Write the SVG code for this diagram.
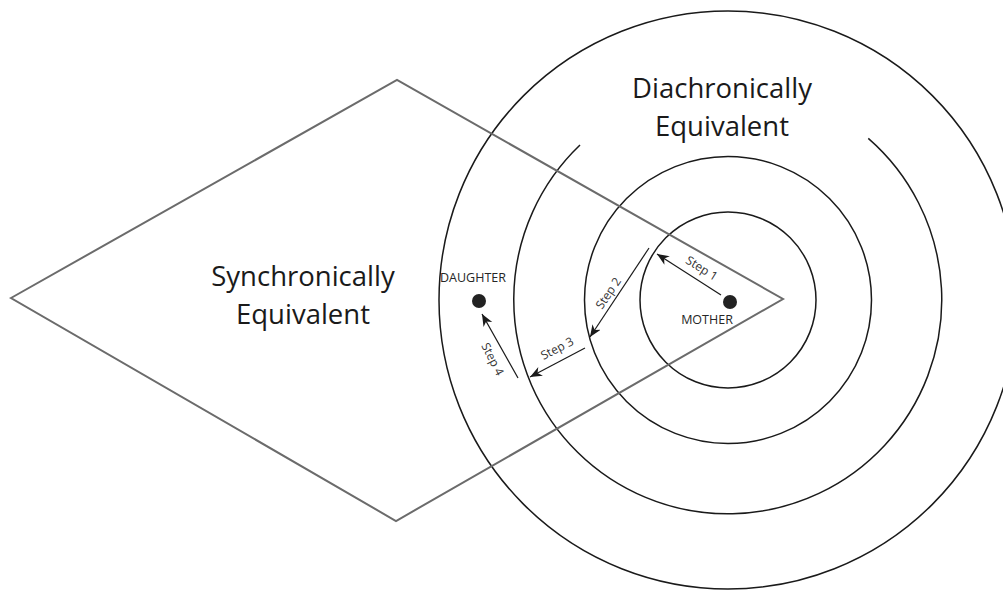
<svg xmlns="http://www.w3.org/2000/svg" width="1003" height="591" viewBox="0 0 1003 591">
<style>
.bg{fill:#ffffff}
.ring{fill:none;stroke:#1a1a1a;stroke-width:1.5}
.rhombus{fill:none;stroke:#6b6b6b;stroke-width:2}
.big{font-family:"Open Sans","Noto Sans","DejaVu Sans",sans-serif;font-size:27.5px;fill:#1a1a1a;text-anchor:middle}
.small{font-family:"Open Sans","Noto Sans","DejaVu Sans",sans-serif;font-size:12.5px;fill:#262626;text-anchor:middle}
.step{font-family:"Open Sans","Noto Sans","DejaVu Sans",sans-serif;font-size:12px;fill:#333333;text-anchor:middle;dominant-baseline:central}
.arrow{fill:none;stroke:#1a1a1a;stroke-width:1.2;marker-end:url(#ah)}
.dot{fill:#222222}
</style>
<defs>
<marker id="ah" markerUnits="userSpaceOnUse" markerWidth="14" markerHeight="12" refX="12" refY="5" orient="auto">
<path d="M0,0 L12,5 L0,10 L3.5,5 Z" fill="#1a1a1a"/>
</marker>
</defs>
<rect class="bg" x="0" y="0" width="1003" height="591"/>
<g id="rings">
<circle id="ring1" class="ring" cx="728" cy="300" r="88"/>
<circle id="ring2" class="ring" cx="728" cy="300" r="143.5"/>
<path id="ring3" class="ring" d="M580,145 A214,214 0 1 0 868.3,138.4"/>
<circle id="ring4" class="ring" cx="728" cy="300" r="289"/>
</g>
<g id="synchronic">
<polygon class="rhombus" points="11,298 397,80 783,299 396,521"/>
<text class="big" x="303" y="286">Synchronically</text>
<text class="big" x="303" y="324">Equivalent</text>
</g>
<g id="diachronic">
<text class="big" x="722" y="98">Diachronically</text>
<text class="big" x="722" y="136">Equivalent</text>
</g>
<g id="mother">
<circle class="dot" cx="730" cy="302" r="7"/>
<text class="small" x="707" y="324">MOTHER</text>
</g>
<g id="daughter">
<circle class="dot" cx="479" cy="301" r="7"/>
<text class="small" x="473" y="282">DAUGHTER</text>
</g>
<g id="connectors">
<line class="arrow" x1="721" y1="295" x2="657" y2="254"/>
<line class="arrow" x1="649" y1="248" x2="590" y2="337"/>
<line class="arrow" x1="585" y1="348" x2="530" y2="377"/>
<line class="arrow" x1="518" y1="378" x2="482" y2="314"/>
<text class="step" transform="translate(702,268) rotate(32)">Step 1</text>
<text class="step" transform="translate(608,293) rotate(-56)">Step 2</text>
<text class="step" transform="translate(557,348) rotate(-27)">Step 3</text>
<text class="step" transform="translate(493,359) rotate(63)">Step 4</text>
</g>
</svg>
